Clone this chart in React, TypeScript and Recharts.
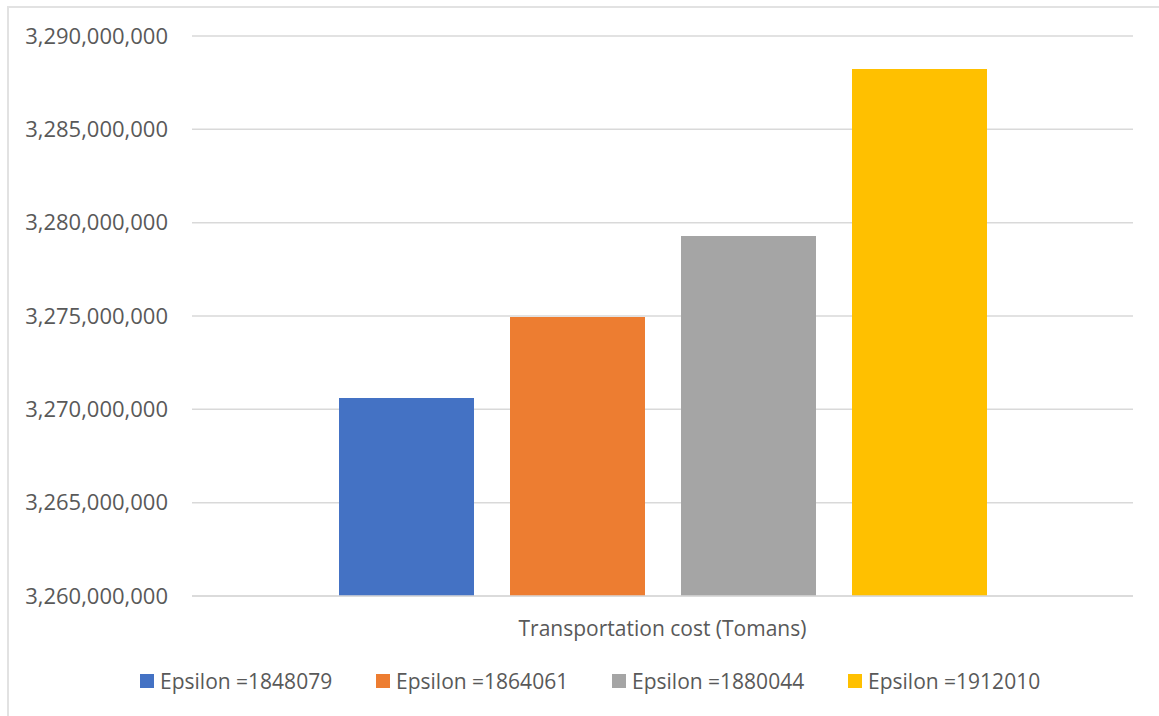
import React from 'react';
import { BarChart, Bar, XAxis, YAxis, CartesianGrid } from 'recharts';

const categories = ['Transportation cost (Tomans)'];
const seriesNames = ['Epsilon =1848079', 'Epsilon =1864061', 'Epsilon =1880044', 'Epsilon =1912010'];
const seriesKeys = ['e1', 'e2', 'e3', 'e4'];
const seriesValues = [[3270607000], [3274950000], [3279290000], [3288230000]];
const seriesColors = ['#4472C4', '#ED7D31', '#A5A5A5', '#FFC000'];
const yTicks = [3260000000, 3265000000, 3270000000, 3275000000, 3280000000, 3285000000, 3290000000];

const data = categories.map((name, i) => {
  const row: Record<string, string | number> = { name };
  seriesKeys.forEach((k, s) => {
    row[k] = seriesValues[s][i];
  });
  return row;
});

const FONT = '"Open Sans", "Noto Sans", sans-serif';
const TEXT = '#595959';
const GRID = '#D9D9D9';

export default function App() {
  return (
    <div style={{ position: 'absolute', left: 0, top: 0, width: 1159, height: 716, background: '#fff', overflow: 'hidden' }}>
      <div
        style={{
          position: 'absolute',
          left: 7,
          top: 6,
          right: 0,
          bottom: 0,
          borderLeft: '2px solid #E2E2E2',
          borderTop: '2px solid #E2E2E2',
        }}
      />
      <div style={{ position: 'absolute', left: 0, top: 0 }}>
        <BarChart
          width={1159}
          height={716}
          data={data}
          margin={{ top: 36, right: 26, bottom: 60, left: 0 }}
          barSize={135}
          barGap={36}
        >
          <CartesianGrid vertical={false} stroke={GRID} strokeWidth={1.5} />
          <XAxis
            dataKey="name"
            height={60}
            axisLine={{ stroke: GRID, strokeWidth: 1.5 }}
            tickLine={false}
            tickSize={0}
            tickMargin={25}
            tick={{ fill: TEXT, fontSize: 21, fontFamily: FONT }}
          />
          <YAxis
            width={192}
            domain={[yTicks[0], yTicks[yTicks.length - 1]]}
            ticks={yTicks}
            axisLine={false}
            tickLine={false}
            tickSize={0}
            tickMargin={24}
            tickFormatter={(v: number) => v.toLocaleString('en-US')}
            tick={{ fill: TEXT, fontSize: 22, fontFamily: FONT }}
          />
          {seriesKeys.map((k, i) => (
            <Bar key={k} dataKey={k} name={seriesNames[i]} fill={seriesColors[i]} isAnimationActive={false} />
          ))}
        </BarChart>
      </div>
      <div
        style={{
          position: 'absolute',
          left: 140,
          top: 666,
          display: 'flex',
          fontFamily: FONT,
          fontSize: 21,
          color: TEXT,
          lineHeight: '30px',
          whiteSpace: 'nowrap',
        }}
      >
        {seriesNames.map((n, i) => (
          <div key={n} style={{ display: 'flex', alignItems: 'center', width: 236 }}>
            <span style={{ display: 'inline-block', width: 14, height: 14, background: seriesColors[i], marginRight: 6 }} />
            <span>{n}</span>
          </div>
        ))}
      </div>
    </div>
  );
}
